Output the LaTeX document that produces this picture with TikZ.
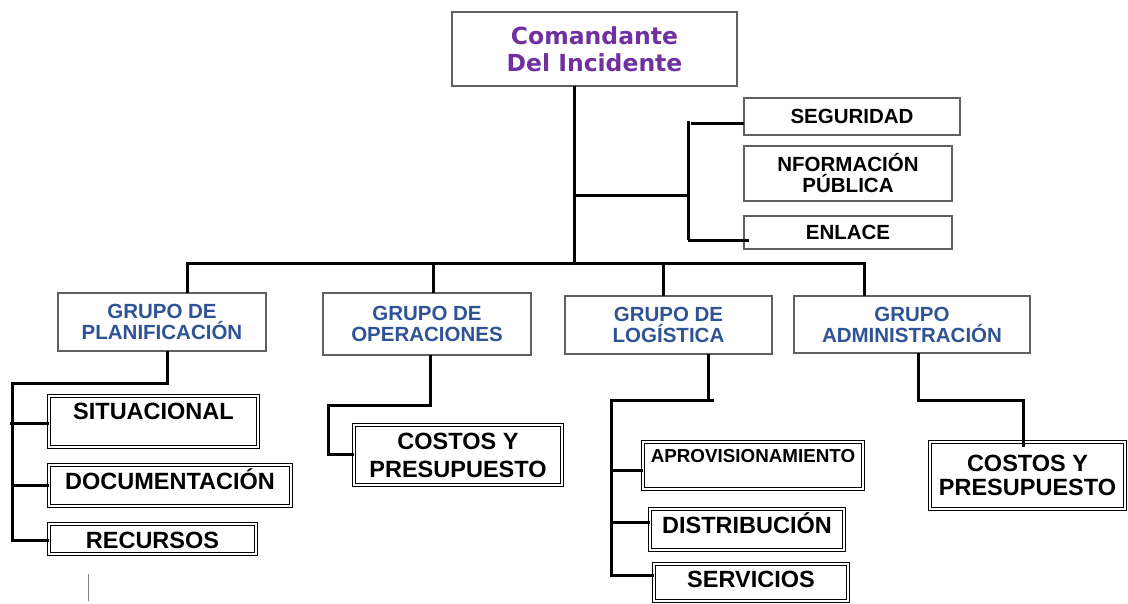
\documentclass[tikz,border=0pt]{standalone}
\usepackage{fontspec}
\setmainfont{Liberation Sans}
\newfontfamily\dejavufam{DejaVu Sans}
\definecolor{cmdpurple}{HTML}{7030A0}
\definecolor{grpblue}{HTML}{2F5496}
\definecolor{boxgray}{HTML}{5F5F5F}
\newcommand\cmdfont{\dejavufam\bfseries\fontsize{23.5}{27}\selectfont}
\newcommand\grpfont{\bfseries\fontsize{20.5}{21}\selectfont}
\newcommand\sidefont{\bfseries\fontsize{20.5}{21}\selectfont}
\newcommand\bigfont{\bfseries\fontsize{23.5}{28}\selectfont}
\newcommand\bigfontb{\bfseries\fontsize{23.5}{24}\selectfont}
\newcommand\aprfont{\bfseries\fontsize{18.8}{20}\selectfont}
\tikzset{
  box/.style={draw=boxgray, line width=1.2pt, inner sep=0pt, outer sep=0pt, align=center, fill=white},
  dbox/.style={draw=black, double, double distance=1.6pt, line width=1.5pt, inner sep=0pt, outer sep=0pt, align=center},
  conn/.style={line width=3pt, black},
  thinline/.style={line width=1pt, gray}
}
\begin{document}
\begin{tikzpicture}[x=1pt,y=-1pt]
\useasboundingbox (0,0) rectangle (1128,603);

% top
\node[box, minimum width=285pt, minimum height=74pt, font=\cmdfont, text=cmdpurple] (cmd) at (594.5,49) {Comandante\\Del Incidente};

% staff boxes
\node[box, minimum width=216pt, minimum height=37pt, font=\sidefont] (seg) at (852,116.5) {SEGURIDAD};
\node[box, minimum width=208pt, minimum height=55pt, font=\sidefont] (nfo) at (848,173.5) {NFORMACIÓN\\PÚBLICA};
\node[box, minimum width=208pt, minimum height=33pt, font=\sidefont] (enl) at (848,232.5) {ENLACE};

% group boxes
\node[box, minimum width=208pt, minimum height=58pt, font=\grpfont, text=grpblue] (pla) at (162,322) {GRUPO DE\\PLANIFICACIÓN};
\node[box, minimum width=208pt, minimum height=62pt, font=\grpfont, text=grpblue] (ope) at (427,324) {GRUPO DE\\OPERACIONES};
\node[box, minimum width=207pt, minimum height=58pt, font=\grpfont, text=grpblue] (log) at (668.5,325) {GRUPO DE\\LOGÍSTICA};
\node[box, minimum width=236pt, minimum height=57pt, font=\grpfont, text=grpblue] (adm) at (912,324.5) {GRUPO\\ADMINISTRACIÓN};

% planning sub-boxes
\node[dbox, minimum width=209pt, text height=23pt, text depth=28pt, font=\bigfont] (sit) at (153.5,421.5) {SITUACIONAL};
\node[dbox, minimum width=242pt, text height=24pt, text depth=17pt, font=\bigfont] (doc) at (170,485.5) {DOCUMENTACIÓN};
\node[dbox, minimum width=207pt, text height=24pt, text depth=6pt, font=\bigfont] (rec) at (152.5,539) {RECURSOS};

% operations sub-box
\node[dbox, minimum width=208pt, minimum height=60pt, font=\bigfont] (cp1) at (458,455) {COSTOS Y\\PRESUPUESTO};

% logistics sub-boxes
\node[dbox, minimum width=220pt, text height=20pt, text depth=27pt, font=\aprfont] (apr) at (753,465.5) {APROVISIONAMIENTO};
\node[dbox, minimum width=194pt, text height=24pt, text depth=17pt, font=\bigfont] (dis) at (747,529.5) {DISTRIBUCIÓN};
\node[dbox, minimum width=194pt, text height=23pt, text depth=14pt, font=\bigfont] (ser) at (751,582.5) {SERVICIOS};

% administration sub-box
\node[dbox, minimum width=195pt, minimum height=67pt, font=\bigfontb] (cp2) at (1027.5,475.5) {COSTOS Y\\PRESUPUESTO};

% junction coordinates
\coordinate (bm) at (574,263);
\coordinate (j1) at (574,195);
\coordinate (j2) at (688,195);
\coordinate (j3) at (688,121);
\coordinate (j4) at (688,240);
\coordinate (sgL) at (691,123);
\coordinate (b1) at (187,263);
\coordinate (b2) at (433,263);
\coordinate (b3) at (663,263);
\coordinate (b4) at (864,263);
\coordinate (p1) at (167,383);
\coordinate (p2) at (12,383);
\coordinate (p3) at (12,540);
\coordinate (q1) at (10,423);
\coordinate (o1) at (430,405);
\coordinate (o2) at (328,405);
\coordinate (o3) at (328,454);
\coordinate (l0) at (714,400);
\coordinate (l1) at (708,400);
\coordinate (l2) at (611,400);
\coordinate (l3) at (611,575);
\coordinate (la) at (611,470);
\coordinate (ld) at (611,522);
\coordinate (a1) at (918,400);
\coordinate (a2) at (1023,400);
\coordinate (a3) at (1023,447);
\coordinate (s1) at (88,574);
\coordinate (s2) at (88,601);

% connectors: commander and staff
\draw[conn] (cmd.south -| bm) -- (bm);
\draw[conn] (j1) -- (j2);
\draw[conn] (j3) -- (j4);
\draw[conn] (sgL) -- (seg.west |- sgL);
\draw[conn] (j4) -- ([xshift=5pt]enl.west |- j4);

% bus to groups
\draw[conn] (b1 |- pla.north) -- (b1) -- (b4) -- (b4 |- adm.north);
\draw[conn] (b2) -- (b2 |- ope.north);
\draw[conn] (b3) -- (b3 |- log.north);

% planning
\draw[conn] (p1 |- pla.south) -- (p1) -- (p2) -- (p3) -- (rec.west |- p3);
\draw[conn] (q1) -- (sit.west |- q1);
\draw[conn] (p2 |- doc.west) -- (doc.west);

% operations
\draw[conn] (o1 |- ope.south) -- (o1) -- (o2) -- (o3) -- (cp1.west |- o3);

% logistics
\draw[conn] (l1 |- log.south) -- (l1);
\draw[conn] (l0) -- (l2) -- (l3) -- (ser.west |- l3);
\draw[conn] (la) -- (apr.west |- la);
\draw[conn] (ld) -- (dis.west |- ld);

% administration
\draw[conn] (a1 |- adm.south) -- (a1) -- (a2) -- (a3);

% stray mark
\draw[thinline] (s1) -- (s2);
\end{tikzpicture}
\end{document}
